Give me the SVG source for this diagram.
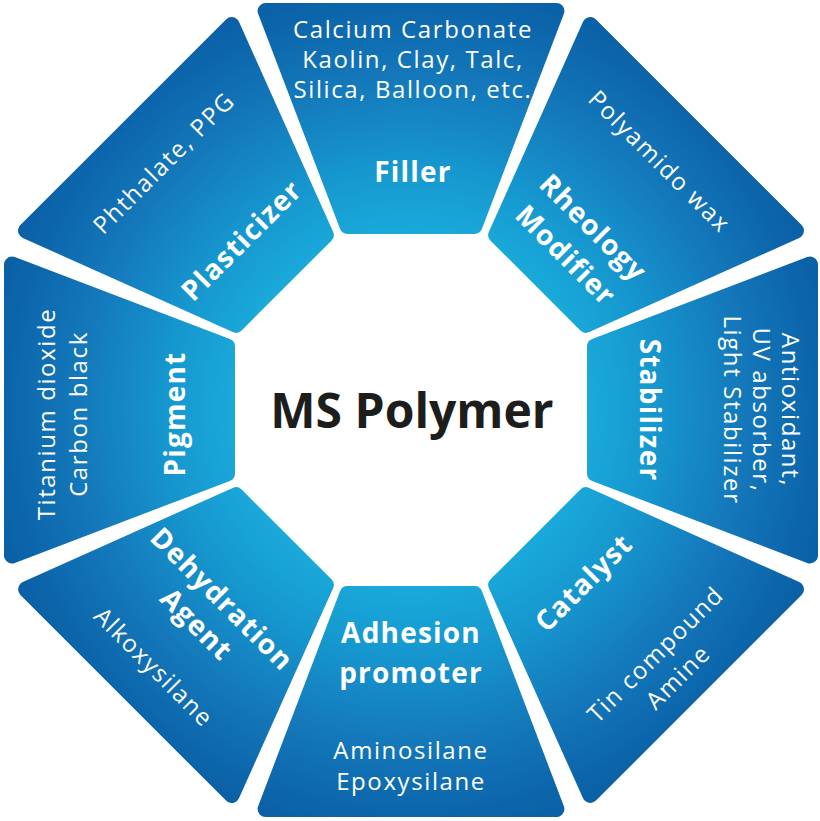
<svg xmlns="http://www.w3.org/2000/svg" xmlns:xlink="http://www.w3.org/1999/xlink" width="820" height="821" viewBox="0 0 820 821">
<defs>
<radialGradient id="g" gradientUnits="userSpaceOnUse" cx="0" cy="0" r="440">
<stop offset="0.38" stop-color="#1aacdb"/>
<stop offset="0.55" stop-color="#1698cf"/>
<stop offset="0.75" stop-color="#1479bb"/>
<stop offset="0.92" stop-color="#0c65aa"/>
<stop offset="1" stop-color="#0a5ea4"/>
</radialGradient>
<polygon id="seg" points="-145.4,-399 145.4,-399 63.5,-184 -63.5,-184"/>
<style>
.seg{fill:url(#g);stroke:url(#g);stroke-width:16;stroke-linejoin:round}
.d{font-family:"Open Sans","Liberation Sans",sans-serif;font-size:24px;fill:#fff;text-anchor:middle;letter-spacing:1.6px}
.l{font-family:"Open Sans","Liberation Sans",sans-serif;font-size:28px;font-weight:700;fill:#fff;text-anchor:middle;letter-spacing:1.2px}
.c{font-family:"Open Sans","Liberation Sans",sans-serif;font-size:48px;font-weight:700;fill:#1d1d1b;text-anchor:middle}
</style>
</defs>
<rect width="820" height="821" fill="#ffffff"/>

<g id="filler" transform="translate(411,410)">
<use xlink:href="#seg" href="#seg" class="seg"/>
<text class="d" x="2" y="-372">Calcium Carbonate</text>
<text class="d" x="2" y="-342">Kaolin, Clay, Talc,</text>
<text class="d" x="2" y="-312">Silica, Balloon, etc.</text>
<text class="l" x="2" y="-228">Filler</text>
</g>

<g id="rheology-modifier" transform="translate(411,410) rotate(45)">
<use xlink:href="#seg" href="#seg" class="seg"/>
<text class="d" x="0" y="-343">Polyamido wax</text>
<text class="l" x="0" y="-248">Rheology</text>
<text class="l" x="0" y="-209">Modifier</text>
</g>

<g id="stabilizer" transform="translate(411,410) rotate(90)">
<use xlink:href="#seg" href="#seg" class="seg"/>
<text class="d" x="0" y="-371">Antioxidant,</text>
<text class="d" x="0" y="-342">UV absorber,</text>
<text class="d" x="0" y="-313">Light Stabilizer</text>
<text class="l" x="0" y="-229">Stabilizer</text>
</g>

<g id="catalyst" transform="translate(411,410)">
<use xlink:href="#seg" href="#seg" class="seg" transform="rotate(135)"/>
<g transform="rotate(-45)">
<text class="l" x="0" y="254">Catalyst</text>
<text class="d" x="0" y="354">Tin compound</text>
<text class="d" x="0" y="386">Amine</text>
</g>
</g>

<g id="adhesion-promoter" transform="translate(411,410)">
<use xlink:href="#seg" href="#seg" class="seg" transform="rotate(180)"/>
<text class="l" x="0" y="233">Adhesion</text>
<text class="l" x="0" y="273">promoter</text>
<text class="d" x="0" y="349">Aminosilane</text>
<text class="d" x="0" y="380">Epoxysilane</text>
</g>

<g id="dehydration-agent" transform="translate(411,410)">
<use xlink:href="#seg" href="#seg" class="seg" transform="rotate(225)"/>
<g transform="rotate(45)">
<text class="l" x="0" y="277">Dehydration</text>
<text class="l" x="0" y="313">Agent</text>
<text class="d" x="0" y="372">Alkoxysilane</text>
</g>
</g>

<g id="pigment" transform="translate(411,410) rotate(-90)">
<use xlink:href="#seg" href="#seg" class="seg"/>
<text class="d" x="-4" y="-356">Titanium dioxide</text>
<text class="d" x="-4" y="-324">Carbon black</text>
<text class="l" x="-4" y="-226">Pigment</text>
</g>

<g id="plasticizer" transform="translate(411,410) rotate(-45)">
<use xlink:href="#seg" href="#seg" class="seg"/>
<text class="d" x="0" y="-341">Phthalate, PPG</text>
<text class="l" x="0" y="-230">Plasticizer</text>
</g>

<g id="ms-polymer">
<text class="c" x="412" y="428">MS Polymer</text>
</g>
</svg>
